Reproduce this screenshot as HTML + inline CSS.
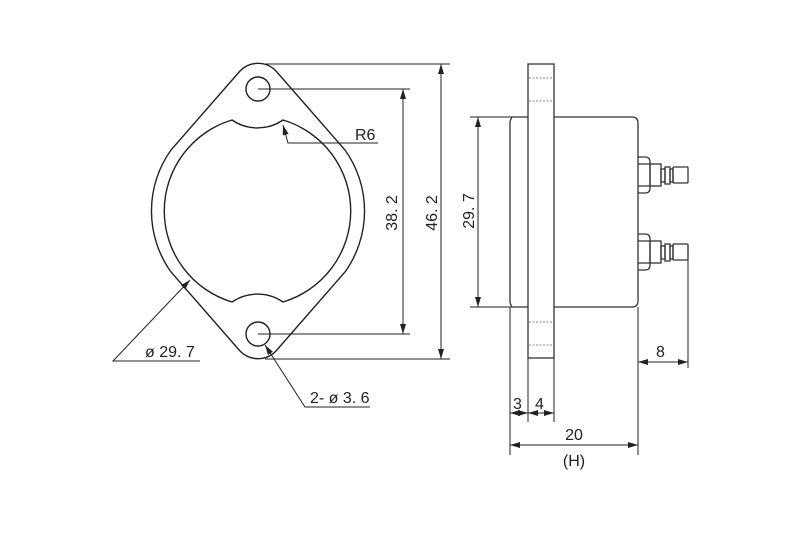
<!DOCTYPE html>
<html><head><style>body{margin:0;background:#fff}svg{display:block}text{font-family:"Liberation Sans",sans-serif;font-size:16px;fill:#222}</style></head><body>
<svg width="800" height="533" viewBox="0 0 800 533" xmlns="http://www.w3.org/2000/svg">
<defs>
<marker id="a" viewBox="0 0 10 6" refX="10" refY="3" markerWidth="10" markerHeight="6" orient="auto-start-reverse" markerUnits="userSpaceOnUse"><path d="M0,0 L10,3 L0,6z" fill="#222"/></marker>
<g id="con" fill="none" stroke="#333" stroke-width="1.3">
<path d="M638,157 h7 q5,0 5,5 v26 q0,5 -5,5 h-7"/>
<path d="M638,164 h12 M638,186 h12"/>
<rect x="650" y="164" width="11" height="22"/>
<rect x="661" y="169" width="4" height="13"/>
<rect x="665" y="167" width="5" height="17"/>
<rect x="670" y="169" width="3" height="13"/>
<rect x="673" y="167" width="15" height="16" rx="1"/>
</g>
</defs>
<g fill="none" stroke="#222" stroke-width="1.4">
<path d="M240,71 A25,25 0 0 1 276,71 L345,150 A105,105 0 0 1 345,272 L276,351 A25,25 0 0 1 240,351 L171,272 A105,105 0 0 1 171,150 Z"/>
<circle cx="258" cy="89" r="12"/>
<circle cx="258" cy="334" r="12"/>
<path d="M232,120 A45,45 0 0 0 283,120 A95,95 0 0 1 283,302 A45,45 0 0 0 232,302 A95,95 0 0 1 232,120 Z"/>
</g>
<g fill="none" stroke="#222" stroke-width="1">
<path d="M265,64 H450 M258,89 H410 M258,334 H410 M265,359 H450"/>
<line x1="403" y1="89" x2="403" y2="334" marker-start="url(#a)" marker-end="url(#a)"/>
<line x1="441" y1="64" x2="441" y2="359" marker-start="url(#a)" marker-end="url(#a)"/>
<path d="M378,143 H288 L283,125" marker-end="url(#a)"/>
<path d="M200,361 H113 L190,280" marker-end="url(#a)"/>
<path d="M370,407 H305 L265,345" marker-end="url(#a)"/>
<path d="M470,117 H512 M470,307 H512"/>
<line x1="478" y1="117" x2="478" y2="307" marker-start="url(#a)" marker-end="url(#a)"/>
</g>
<g fill="none" stroke="#333" stroke-width="1.3">
<rect x="528" y="64" width="26" height="294"/>
<path d="M512,117 H528 M512,307 H528 M510,121 V303 M512,117 L510,121 M512,307 L510,303"/>
<path d="M554,117 H632 Q638,117 638,123 V301 Q638,307 632,307 H554"/>
</g>
<g stroke="#888" stroke-width="1" stroke-dasharray="2,1.5"><path d="M529,78 H553 M529,101 H553 M529,322 H553 M529,345 H553"/></g>
<use href="#con"/>
<use href="#con" transform="translate(0,77)"/>
<g fill="none" stroke="#222" stroke-width="1">
<path d="M638,307 V368 M688,245 V368 M510,307 V455 M528,358 V422 M554,358 V422 M638,368 V455"/>
<line x1="638" y1="362" x2="688" y2="362" marker-start="url(#a)" marker-end="url(#a)"/>
<line x1="510" y1="413" x2="528" y2="413" marker-start="url(#a)" marker-end="url(#a)"/>
<line x1="528" y1="413" x2="554" y2="413" marker-start="url(#a)" marker-end="url(#a)"/>
<line x1="510" y1="445" x2="638" y2="445" marker-start="url(#a)" marker-end="url(#a)"/>
</g>
<text x="355" y="140">R6</text>
<text x="145" y="357">ø 29. 7</text>
<text x="310" y="403">2- ø 3. 6</text>
<text transform="translate(397,213) rotate(-90)" text-anchor="middle">38. 2</text>
<text transform="translate(437,213) rotate(-90)" text-anchor="middle">46. 2</text>
<text transform="translate(474,211) rotate(-90)" text-anchor="middle">29. 7</text>
<text x="656" y="357">8</text>
<text x="513" y="409">3</text>
<text x="535" y="409">4</text>
<text x="574" y="440" text-anchor="middle">20</text>
<text x="574" y="466" text-anchor="middle">(H)</text>
</svg>
</body></html>
